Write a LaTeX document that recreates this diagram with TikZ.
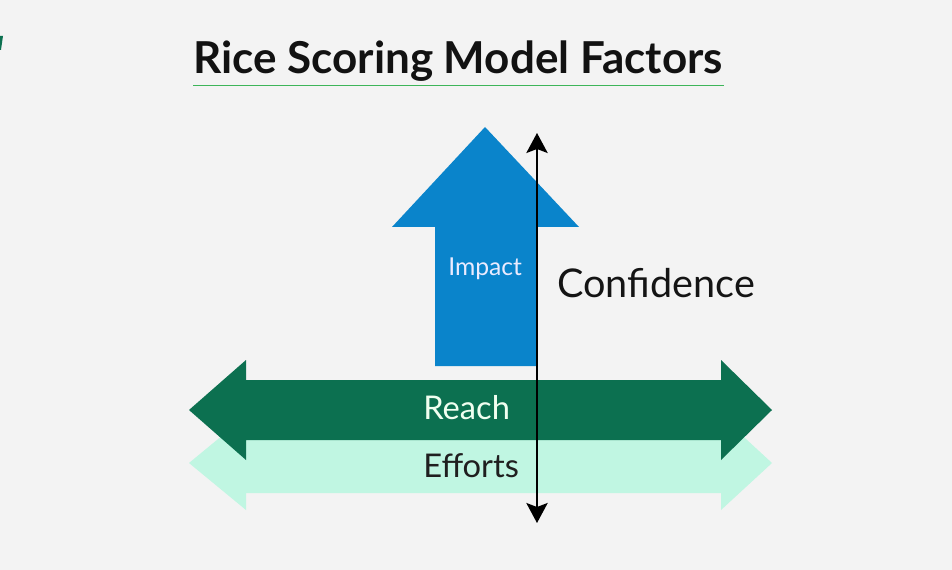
\documentclass[tikz,border=0pt]{standalone}
\usepackage{fontspec}
\setmainfont{Lato}
\usetikzlibrary{arrows.meta}

\definecolor{bggray}{HTML}{F3F3F3}
\definecolor{impactblue}{HTML}{0A84CB}
\definecolor{reachgreen}{HTML}{0C7050}
\definecolor{effortmint}{HTML}{C0F6E2}
\definecolor{rulegreen}{HTML}{3DB559}

\begin{document}
\begin{tikzpicture}[x=0.75pt, y=-0.75pt]
    \tikzstyle{factor} = [inner sep=0pt, anchor=base west];
    \tikzstyle{axis} = [line width=1.5pt, {Stealth[length=15pt, width=16pt, inset=3pt]}-{Stealth[length=15pt, width=16pt, inset=3pt]}];

    \fill[bggray] (0, 0) rectangle (952, 570);
    \useasboundingbox (0, 0) rectangle (952, 570);
    \fill[reachgreen] (0, 36) -- (3, 36) -- (1, 50) -- (0, 50) -- cycle;

    % title
    \node[factor, font=\fontsize{33}{33}\selectfont\bfseries, text=black!93] (title) at (193, 73.6) {Rice Scoring Model Factors};
    \draw[rulegreen, line width=1.2pt] (193, 85.5) -- (724, 85.5);

    % efforts and reach
    \fill[effortmint] (189, 463) -- (246, 416) -- (246, 433) -- (721, 433) -- (721, 416)
        -- (772, 463) -- (721, 510) -- (721, 493) -- (246, 493) -- (246, 510) -- cycle;
    \fill[reachgreen] (189, 410) -- (246, 360) -- (246, 380) -- (721, 380) -- (721, 360)
        -- (772, 410) -- (721, 460) -- (721, 440) -- (246, 440) -- (246, 460) -- cycle;

    % impact
    \fill[impactblue] (485, 127) -- (579, 227) -- (536, 227) -- (536, 366) -- (435, 366)
        -- (435, 227) -- (392, 227) -- cycle;

    \node[factor, font=\fontsize{18.5}{18.5}\selectfont, text=blue!8] (impact) at (448, 275.7) {Impact};
    \node[factor, font=\fontsize{24.5}{24.5}\selectfont, text=green!6] (reach) at (423, 419) {Reach};
    \node[factor, font=\fontsize{24.5}{24.5}\selectfont, text=black!88] (efforts) at (423, 477) {Efforts};
    \node[factor, font=\fontsize{29.7}{29.7}\selectfont, text=black!92] (confidence) at (557, 297) {Confidence};

    % confidence axis
    \coordinate (conftop) at (537, 133);
    \coordinate (confbottom) at (537, 523);
    \draw[axis] (confbottom) -- (conftop);
\end{tikzpicture}
\end{document}
